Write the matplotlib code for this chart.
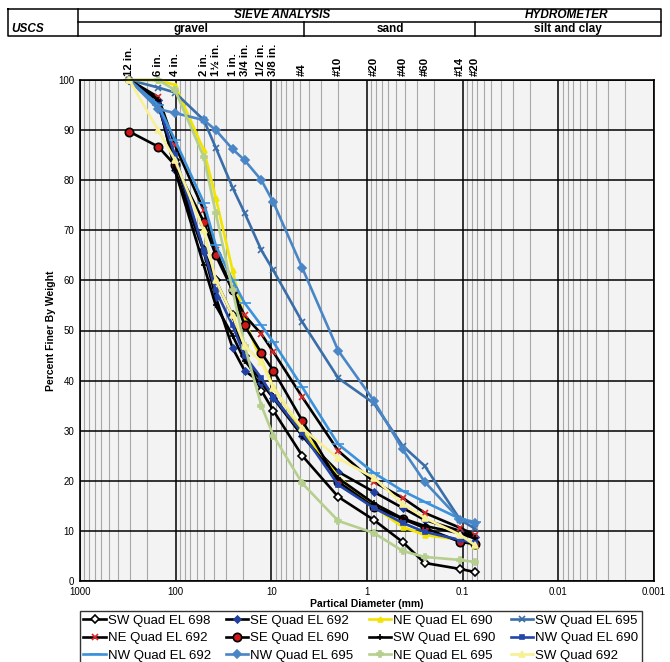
import matplotlib
matplotlib.use('Agg')
import matplotlib.pyplot as plt
from matplotlib.ticker import FixedLocator, NullFormatter

plt.rcParams['font.family'] = ['Liberation Sans', 'DejaVu Sans']

# sieve openings (mm) and their labels across the top
sieve_mm = [304.8, 152.4, 101.6, 50.8, 38.1, 25.4, 19.05, 12.7, 9.525,
            4.75, 2.0, 0.85, 0.425, 0.25, 0.106, 0.075]
sieve_labels = ['12 in.', '6 in.', '4 in.', '2 in.', '1\u00bd in.', '1 in.',
                '3/4 in.', '1/2 in.', '3/8 in.', '#4', '#10', '#20', '#40',
                '#60', '#14', '#20']

# percent finer at each sieve
sw_698 = [100, 95, 84, 66, 60, 53, 45, 38, 34, 25, 16.8, 12.2, 7.8, 3.6, 2.4, 1.8]
se_692 = [100, 96, 82, 65.7, 56.7, 46.5, 42, 39.5, 36.5, 29, 21.8, 17.8, 14.6, 12.2, 10, 8.8]
ne_690 = [100, 100, 99, 86, 76.5, 62, 52, 44, 38.7, 30, 20.8, 14.8, 10.8, 9.2, 8.2, 7]
sw_695 = [100, 98.5, 97.5, 92, 86.5, 78.5, 73.5, 66, 62, 51.7, 40.5, 35.5, 27, 23, 12.2, 10.5]
ne_692 = [100, 96.6, 87, 74, 66, 58, 53, 49.3, 45.7, 36.7, 26, 19.8, 16.6, 13.6, 10.6, 9.2]
se_690 = [89.7, 86.7, 83, 71.7, 65, 58, 51, 45.5, 42, 32, 19.8, 14.8, 12.4, 10.6, 7.8, 7.4]
sw_690 = [100, 96, 82, 63, 55, 49, 44, 40, 37, 29, 20.5, 15.5, 12.5, 11, 9.5, 8.5]
nw_690 = [100, 95, 85, 66, 58, 51, 45, 40.5, 36.7, 29.5, 19.2, 14.6, 11.6, 9.8, 8.2, 7.6]
nw_692 = [100, 95, 88, 75.5, 67, 60, 55.5, 51, 47.7, 38.7, 27.3, 21.6, 18, 15.8, 12.4, 11.8]
nw_695 = [100, 94.2, 93.4, 92, 90, 86.2, 84, 80, 75.6, 62.5, 46, 36, 26.3, 19.8, 12.2, 11.5]
ne_695 = [100, 100, 98, 84.6, 73.4, 58, 47, 35, 29, 19.5, 12, 9.6, 6, 4.8, 4.2, 3.8]
sw_692 = [100, 90, 84, 70, 60, 53, 47, 43.7, 38.5, 30.5, 24.5, 20.6, 15.4, 12.6, 9.2, 7.2]

# (label, values, line colour, marker, marker face, marker edge, marker size)
curves = [
    ('SW Quad EL 698', sw_698, 'black', 'D', 'white', 'black', 4.5),
    ('SE Quad EL 692', se_692, 'black', 'D', '#2040a0', '#2040a0', 3.5),
    ('NE Quad EL 690', ne_690, '#f2e400', '^', '#f2e400', '#f2e400', 3.5),
    ('SW Quad EL 695', sw_695, '#3a6ea8', 'x', '#3a6ea8', '#3a6ea8', 4),
    ('NE Quad EL 692', ne_692, 'black', 'x', '#e02828', '#e02828', 5),
    ('SE Quad EL 690', se_690, 'black', 'o', '#d01818', 'black', 6),
    ('SW Quad EL 690', sw_690, 'black', '+', 'black', 'black', 5),
    ('NW Quad EL 690', nw_690, '#2446a8', 's', '#2446a8', '#2446a8', 2.5),
    ('NW Quad EL 692', nw_692, '#3b92da', '_', '#3b92da', '#3b92da', 8),
    ('NW Quad EL 695', nw_695, '#4a86c6', 'D', '#4a86c6', '#4a86c6', 4),
    ('NE Quad EL 695', ne_695, '#b6cf8e', 'P', '#b6cf8e', '#b6cf8e', 4),
    ('SW Quad 692', sw_692, '#f7f095', '^', '#f7f095', '#f7f095', 4),
]

fig = plt.figure(figsize=(6.7, 6.62), dpi=100)
ax = fig.add_axes([80 / 670, 1 - 581 / 662, 574 / 670, 501 / 662])
ax.set_facecolor('#f3f3f3')
ax.set_xscale('log')
ax.set_xlim(1000, 0.001)
ax.set_ylim(0, 100)

ax.xaxis.set_major_locator(FixedLocator([1000, 100, 10, 1, 0.1, 0.01, 0.001]))
ax.set_xticklabels(['1000', '100', '10', '1', '0.1', '0.01', '0.001'], fontsize=7)
minor = [m * 10.0 ** e for e in range(-3, 3) for m in range(2, 10)]
ax.xaxis.set_minor_locator(FixedLocator(minor))
ax.xaxis.set_minor_formatter(NullFormatter())
ax.set_yticks(range(0, 101, 10))
ax.set_yticklabels([str(v) for v in range(0, 101, 10)], fontsize=7)
ax.tick_params(which='both', length=0, pad=4)
ax.grid(which='major', color='black', lw=1.1)
ax.grid(which='minor', axis='x', color='#a8a8a8', lw=0.8)
ax.set_axisbelow(True)
for s in ax.spines.values():
    s.set_linewidth(1.2)

ax.set_xlabel('Partical Diameter (mm)', fontsize=7.5, fontweight='bold', labelpad=2)
ax.set_ylabel('Percent Finer By Weight', fontsize=7.5, fontweight='bold', labelpad=2)

handles = []
for lab, vals, col, mk, mfc, mec, ms in curves:
    h, = ax.plot(sieve_mm, vals, color=col, lw=1.9, marker=mk, mfc=mfc, mec=mec,
                 ms=ms, mew=1.2, label=lab, clip_on=False)
    handles.append(h)

trans = ax.get_xaxis_transform()
for d, lab in zip(sieve_mm, sieve_labels):
    ax.text(d, 1.008, lab, transform=trans, rotation=90, ha='center', va='bottom',
            fontsize=8.2, fontweight='bold')

# header table in pixel coordinates
hdr = fig.add_axes([0, 0, 1, 1])
hdr.set_xlim(0, 670)
hdr.set_ylim(662, 0)
hdr.axis('off')
x0, x1, xc = 8, 661, 78
y0, ym, y1 = 9, 22, 36
hdr.plot([x0, x1, x1, x0, x0], [y0, y0, y1, y1, y0], color='black', lw=1.1)
hdr.plot([xc, xc], [y0, y1], color='black', lw=1.1)
hdr.plot([xc, x1], [ym, ym], color='black', lw=1.1)
hdr.plot([304, 304], [ym, y1], color='black', lw=1.1)
hdr.plot([475, 475], [ym, y1], color='black', lw=1.1)
hdr.text(11, 29, 'USCS', fontsize=8.5, fontweight='bold', style='italic', va='center')
hdr.text(282, 15.5, 'SIEVE ANALYSIS', fontsize=8.5, fontweight='bold', style='italic',
         ha='center', va='center')
hdr.text(567, 15.5, 'HYDROMETER', fontsize=8.5, fontweight='bold', style='italic',
         ha='center', va='center')
hdr.text(191, 29, 'gravel', fontsize=8.5, fontweight='bold', ha='center', va='center')
hdr.text(390, 29, 'sand', fontsize=8.5, fontweight='bold', ha='center', va='center')
hdr.text(568, 29, 'silt and clay', fontsize=8.5, fontweight='bold', ha='center', va='center')

order = [0, 4, 8, 1, 5, 9, 2, 6, 10, 3, 7, 11]
leg = fig.legend([handles[i] for i in order], [curves[i][0] for i in order],
                 ncol=4, loc='upper left', bbox_to_anchor=(80 / 670, 1 - 611 / 662),
                 frameon=True, fancybox=False, edgecolor='black', fontsize=9.5,
                 handlelength=1.7, handletextpad=0.15, columnspacing=1.15,
                 labelspacing=0.42, borderpad=0.25, borderaxespad=0)
leg.get_frame().set_linewidth(1.0)

fig.savefig('out.png', dpi=100)
